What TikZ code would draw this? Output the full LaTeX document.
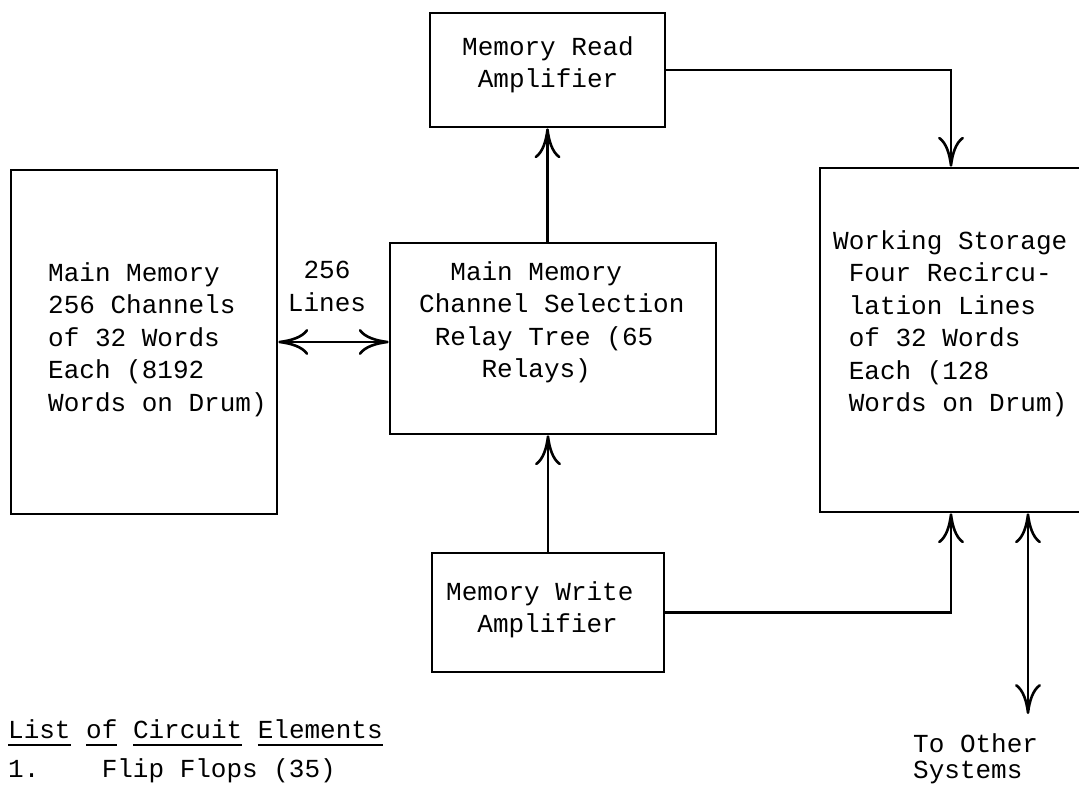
\documentclass[tikz,border=0pt]{standalone}
\usepackage{fontspec}
\setmonofont{Liberation Mono}
\usepackage{tikz}
\usetikzlibrary{arrows.meta,calc}
\newcommand{\typed}{\ttfamily\fontsize{26}{32.5}\selectfont}
\newlength{\uwd}
\newcommand{\uword}[1]{\settowidth{\uwd}{#1}\rlap{\rule[-8pt]{\uwd}{2.2pt}}#1}
\tikzset{
  font=\typed,
  >={Computer Modern Rightarrow[length=30pt,width=26pt]},
  blk/.style  = {draw, line width=2.6pt, inner sep=0pt},
  txt/.style  = {inner sep=0pt, align=left, anchor=north west},
  flow/.style = {->, line width=2.6pt},
  both/.style = {<->, line width=2.6pt},
}

\begin{document}
\begin{tikzpicture}[x=1pt, y=-1pt]
\useasboundingbox[fill=white] (0,0) rectangle (1079,791);
\clip (0,0) rectangle (1079,791);

% ---------------- boxes -----------------------------------------------
\node[blk, minimum width=235pt, minimum height=114pt] at (547.5,70) (readamp) {};
\node[blk, minimum width=266pt, minimum height=344pt] at (144,342) (mainmem) {};
\node[blk, minimum width=326pt, minimum height=191pt] at (553,338.5) (relay) {};
\node[blk, minimum width=232pt, minimum height=119pt] at (548,612.5) (write) {};
\node[blk, minimum width=262pt, minimum height=344pt] at (951,340) (ws) {};

% ---------------- typed texts -----------------------------------------
\node[txt] at (462,36) (readtext) {Memory Read\\\phantom{M}Amplifier};
\node[txt] at (48,262) (maintext)
  {Main Memory\\256 Channels\\of 32 Words\\Each (8192\\Words on Drum)};
\node[txt, align=center, anchor=north] at (327,261) (linestext) {256\\Lines};
\node[txt] at (419,261) (relaytext)
  {\phantom{MM}Main Memory\\Channel Selection\\\phantom{M}Relay Tree (65\\\phantom{MMMM}Relays)};
\node[txt] at (833,230) (wstext)
  {Working Storage\\\phantom{M}Four Recircu-\\\phantom{M}lation Lines\\\phantom{M}of 32 Words\\\phantom{M}Each (128\\\phantom{M}Words on Drum)};
\node[txt] at (446,581) (writetext) {Memory Write\\\phantom{MM}Amplifier};
\node[txt] at (913,733) (othertext) {To Other\\[-6pt]Systems};
\node[txt] at (8,719) (listhead)
  {\uword{List} \uword{of} \uword{Circuit} \uword{Elements}};
\node[txt] at (8,758) (listitem) {1.\phantom{MMMM}Flip Flops (35)};

% ---------------- connectors ------------------------------------------
\draw[both] (mainmem.east) -- (mainmem.east -| relay.west);
\draw[flow] (relay.north -| readamp.south) -- (readamp.south);
\draw[flow] (write.north) -- (write.north |- relay.south);
\draw[flow] (readamp.east) -| (ws.north);
\draw[flow] (write.east) -| (ws.south);

% the two-way link leaves the storage and runs out of the frame
\coordinate (wsport) at ([xshift=77pt]ws.south);
\coordinate (tosys) at (wsport |- 0,714);
\draw[both] (wsport) -- (tosys);

\end{tikzpicture}
\end{document}
